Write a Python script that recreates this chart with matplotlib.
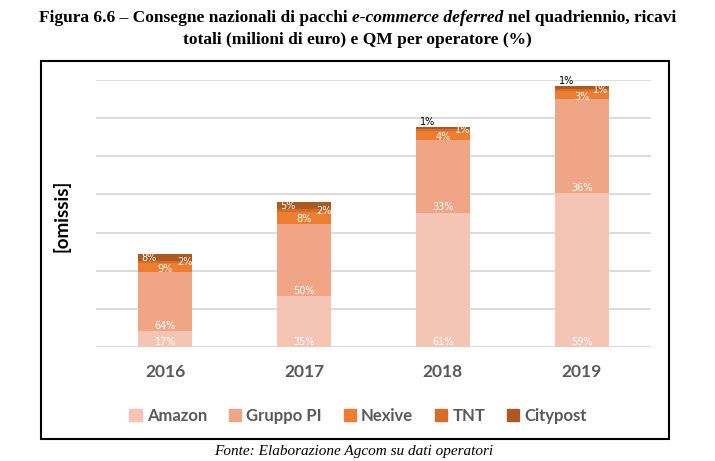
import matplotlib
matplotlib.use("Agg")
import matplotlib.pyplot as plt
from matplotlib.patches import Rectangle, Patch
import numpy as np

# dati (valori assoluti omessi nel grafico originale -> altezze relative)
years = ["2016", "2017", "2018", "2019"]
totals = [244, 380, 577, 684]
operators = ["Amazon", "Gruppo PI", "Nexive", "TNT", "Citypost"]
amazon = [17, 35, 61, 59]
gruppo_pi = [64, 50, 33, 36]
nexive = [9, 8, 4, 3]
tnt = [2, 2, 1, 1]
citypost = [8, 5, 1, 1]
colors = ["#F4C5B4", "#F0A686", "#ED7D31", "#D46C2A", "#AC5A22"]

W, H = 715, 461
fig = plt.figure(figsize=(W / 100, H / 100), dpi=100)
ax = fig.add_axes([96 / W, 1 - 347 / H, (651 - 96) / W, (347 - 80) / H])

x = np.arange(len(years))
shares = [amazon, gruppo_pi, nexive, tnt, citypost]
bottom = np.zeros(len(years))
segs = []
for name, sh, col in zip(operators, shares, colors):
    h = np.array(totals) * np.array(sh) / 100.0
    ax.bar(x, h, 0.39, bottom=bottom, color=col, zorder=3)
    segs.append((bottom.copy(), h))
    bottom = bottom + h

lab = dict(fontsize=7, fontfamily="DejaVu Sans", color="white", ha="center", zorder=5)
for i in range(len(years)):
    # Amazon, Gruppo PI: in basso nel segmento
    for k in (0, 1):
        b, h = segs[k]
        ax.annotate(f"{shares[k][i]}%", (x[i], b[i]), xytext=(0, 3.8),
                    textcoords="offset points", va="center", **lab)
    # Nexive: al centro
    b, h = segs[2]
    ax.annotate(f"{nexive[i]}%", (x[i], b[i] + h[i] / 2), xytext=(0, -1),
                textcoords="offset points", va="center", **lab)
    # TNT: a destra
    b, h = segs[3]
    ax.annotate(f"{tnt[i]}%", (x[i], b[i] + h[i] / 2), xytext=(14, 0),
                textcoords="offset points", va="center", **lab)
    # Citypost: a sinistra, sopra la barra se troppo piccolo
    b, h = segs[4]
    if citypost[i] >= 3:
        ax.annotate(f"{citypost[i]}%", (x[i], b[i] + h[i] / 2), xytext=(-11.5, 0),
                    textcoords="offset points", va="center", **lab)
    else:
        kw = dict(lab)
        kw["color"] = "black"
        ax.annotate(f"{citypost[i]}%", (x[i], b[i] + h[i]), xytext=(-11, 3.5),
                    textcoords="offset points", va="center", **kw)

ax.set_xlim(-0.5, len(years) - 0.5)
ax.set_ylim(0, 700)
ax.set_yticks(np.arange(0, 701, 100))
ax.set_yticklabels([])
ax.tick_params(axis="y", length=0)
ax.grid(axis="y", color="#D9D9D9", linewidth=1.3, zorder=0)
ax.set_xticks(x)
ax.set_xticklabels(years, fontsize=12.5, fontweight="bold", color="#595959", fontfamily="Lato")
ax.tick_params(axis="x", length=0, pad=12.5)
for s in ax.spines.values():
    s.set_visible(False)

fig.text(61 / W, 1 - 216 / H, "[omissis]", rotation=90, fontsize=13.5, fontweight="bold",
         fontfamily="Lato", ha="center", va="center")

handles = [Patch(color=c) for c in colors]
fig.legend(handles, operators, loc="center", bbox_to_anchor=(358 / W, 1 - 415.5 / H), ncol=5,
           frameon=False, handlelength=0.75, handleheight=0.75, handletextpad=0.3, columnspacing=1.3,
           prop=dict(family="Lato", weight="bold", size=12), labelcolor="#595959")

# cornice
fig.patches.append(Rectangle((41 / W, 1 - 439 / H), (669 - 41) / W, (439 - 61) / H, fill=False,
                             edgecolor="black", linewidth=1.5, transform=fig.transFigure))

# titolo (con parte in corsivo)
renderer = fig.canvas.get_renderer()


def rich_line(y, parts, size):
    tfont = dict(fontsize=size, fontfamily="Liberation Serif", fontweight="bold", va="center", ha="left")
    sp = fig.text(0, 0, "x x", **tfont)
    nsp = fig.text(0, 0, "xx", **tfont)
    space = sp.get_window_extent(renderer).width - nsp.get_window_extent(renderer).width
    sp.remove()
    nsp.remove()
    texts = [fig.text(0, y, s, fontstyle=st, **tfont) for s, st in parts]
    widths = [t.get_window_extent(renderer).width for t in texts]
    total = sum(widths) + space * (len(texts) - 1)
    xx = (W - total) / 2
    for t, w in zip(texts, widths):
        t.set_x(xx / W)
        xx += w + space


rich_line(1 - 18 / H, [("Figura 6.6 – Consegne nazionali di pacchi", "normal"),
                       ("e-commerce deferred", "italic"),
                       ("nel quadriennio, ricavi", "normal")], 12.5)
rich_line(1 - 40 / H, [("totali (milioni di euro) e QM per operatore (%)", "normal")], 12.5)

fig.text(354 / W, 1 - 451 / H, "Fonte: Elaborazione Agcom su dati operatori", fontsize=11,
         fontfamily="Liberation Serif", fontstyle="italic", ha="center", va="center")

fig.savefig("out.png", dpi=100)
